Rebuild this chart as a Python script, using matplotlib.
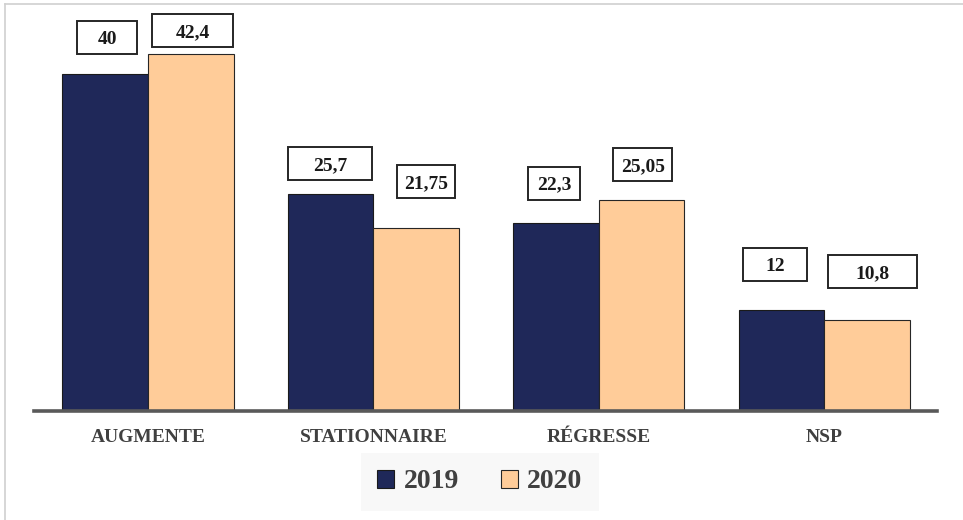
import numpy as np
import matplotlib.pyplot as plt
from matplotlib.lines import Line2D
from matplotlib.patches import Rectangle

# Valeurs (%)
categories = ["AUGMENTE", "STATIONNAIRE", "RÉGRESSE", "NSP"]
series_2019 = [40, 25.7, 22.3, 12]
series_2020 = [42.4, 21.75, 25.05, 10.8]
labels_2019 = ["40", "25,7", "22,3", "12"]
labels_2020 = ["42,4", "21,75", "25,05", "10,8"]

# Position des étiquettes (décalage en pixels) et largeur des cadres
lift_2019 = [(2, 36), (0, 31), (-2, 40), (-6, 45)]
lift_2020 = [(2, 23), (10, 46), (1, 35), (5, 48)]
boxw_2019 = [60, 84, 52, 64]
boxw_2020 = [81, 58, 59, 89]

NAVY = "#1F2859"
ORANGE = "#FFCC99"
SERIF = "Liberation Serif"

fig = plt.figure(figsize=(9.63, 5.2), dpi=100)
ax = fig.add_axes([34 / 963, 1 - 411 / 520, 903 / 963, 46 * 8.43 / 520])

x = np.arange(len(categories))
w = 0.38
b1 = ax.bar(x - w / 2, series_2019, w, color=NAVY, edgecolor="#1a1a1a", linewidth=0.8, label="2019")
b2 = ax.bar(x + w / 2, series_2020, w, color=ORANGE, edgecolor="#262626", linewidth=0.8, label="2020")

ax.set_xlim(-0.505, 3.5)
ax.set_ylim(0, 46)
ax.set_yticks([])
for s in ["top", "right", "left"]:
    ax.spines[s].set_visible(False)
ax.spines["bottom"].set_color("#595959")
ax.spines["bottom"].set_linewidth(2.6)
ax.set_xticks(x)
ax.set_xticklabels(categories, family=SERIF, fontweight="bold", fontsize=14, color="#404040")
ax.tick_params(axis="x", length=0, pad=13)


def boxed_label(xc, val, txt, dx, dy, bw):
    px, py = ax.transData.transform((xc, val))
    cx, cy = px + dx, py + dy
    bh = 33
    rect = Rectangle((cx - bw / 2, cy - bh / 2), bw, bh, transform=None,
                     facecolor="white", edgecolor="#262626", linewidth=1.4)
    fig.add_artist(rect)
    fig.text(cx / fig.bbox.width, cy / fig.bbox.height, txt, ha="center", va="center_baseline",
             family=SERIF, fontweight="bold", fontsize=14, color="#1a1a1a")


for i in range(len(categories)):
    boxed_label(x[i] - w / 2, series_2019[i], labels_2019[i], *lift_2019[i], boxw_2019[i])
    boxed_label(x[i] + w / 2, series_2020[i], labels_2020[i], *lift_2020[i], boxw_2020[i])

leg = ax.legend(loc="center", bbox_to_anchor=(480 / 963, 1 - 482 / 520), bbox_transform=fig.transFigure,
                ncol=2, frameon=True, fancybox=False, facecolor="#F7F7F7", edgecolor="none",
                prop={"family": SERIF, "weight": "bold", "size": 20},
                handlelength=0.6, handleheight=0.6, handletextpad=0.35, columnspacing=1.5,
                borderpad=0.2, borderaxespad=0)
leg.get_frame().set_boxstyle("square", pad=0.4)
for t in leg.get_texts():
    t.set_color("#404040")

# Cadre gris clair
fig.add_artist(Line2D([5 / 963, 5 / 963], [0, 1 - 4 / 520], color="#D0D0D0", linewidth=1.2))
fig.add_artist(Line2D([5 / 963, 1], [1 - 4 / 520, 1 - 4 / 520], color="#D0D0D0", linewidth=1.2))

fig.savefig("out.png", dpi=100)
